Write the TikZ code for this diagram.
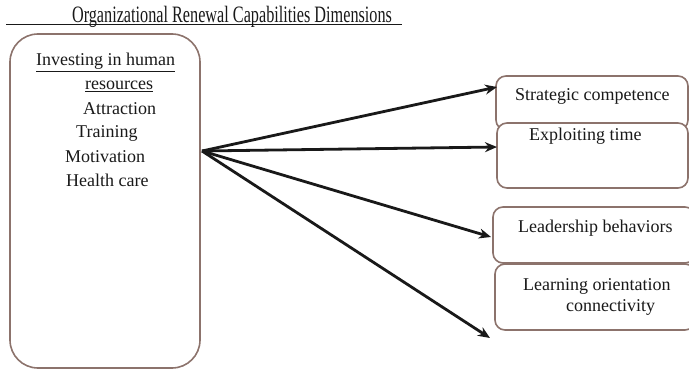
\documentclass[tikz,border=0pt]{standalone}
\usepackage{fontspec}
\setmainfont{Liberation Serif}
\usetikzlibrary{arrows.meta}
\definecolor{bord}{RGB}{140,115,108}
\definecolor{ink}{RGB}{25,25,25}
\tikzset{
  box/.style={draw=bord, line width=1.6pt, rounded corners=10pt, fill=white, inner sep=0pt},
  bigbox/.style={draw=bord, line width=1.6pt, rounded corners=28pt, inner sep=0pt},
  lbl/.style={anchor=base west, inner sep=0pt, text=ink, font=\fontsize{18}{22}\selectfont},
  conn/.style={draw=ink, line width=2.8pt, -{Stealth[length=12pt,width=10pt]}}
}
\begin{document}
\begin{tikzpicture}[x=1pt,y=-1pt]
\useasboundingbox (0,0) rectangle (689,369);
% title
\node[anchor=base, inner sep=0pt, text=ink, font=\fontsize{23.5}{26}\selectfont] (title) at (232,22.5)
  {\scalebox{0.69}[1]{Organizational Renewal Capabilities Dimensions}};
\draw[ink, line width=1pt] (6,24.5) -- (402,24.5);
% left box
\node[bigbox, minimum width=190pt, minimum height=334pt] (left) at (105,201) {};
\node[lbl] (l1) at (36,66) {\underline{Investing in human}};
\node[lbl] (l2) at (85,90) {\underline{resources}};
\node[lbl] (l3) at (83,114) {Attraction};
\node[lbl] (l4) at (76,138) {Training};
\node[lbl] (l5) at (65,162) {Motivation};
\node[lbl] (l6) at (66,186) {Health care};
% right boxes
\node[box, minimum width=192pt, minimum height=54pt] (strat) at (592,103) {};
\node[box, minimum width=191pt, minimum height=65pt] (expl) at (592.5,155.5) {};
\node[box, minimum width=202pt, minimum height=56pt] (lead) at (594,235) {};
\node[box, minimum width=200pt, minimum height=66pt] (learn) at (595,297) {};
\node[lbl] (t1) at (515,101) {Strategic competence};
\node[lbl] (t2) at (529,141) {Exploiting time};
\node[lbl] (t3) at (518,232) {Leadership behaviors};
\node[lbl] (t4) at (523,290) {Learning orientation};
\node[lbl] (t5) at (566,311) {connectivity};
% connectors
\coordinate (src) at (202,151);
\coordinate (e1) at (497,87);
\coordinate (e2) at (497,147);
\coordinate (e3) at (491,237);
\coordinate (e4) at (490,338);
\draw[conn] (src) -- (e1);
\draw[conn] (src) -- (e2);
\draw[conn] (src) -- (e3);
\draw[conn] (src) -- (e4);
\end{tikzpicture}
\end{document}
